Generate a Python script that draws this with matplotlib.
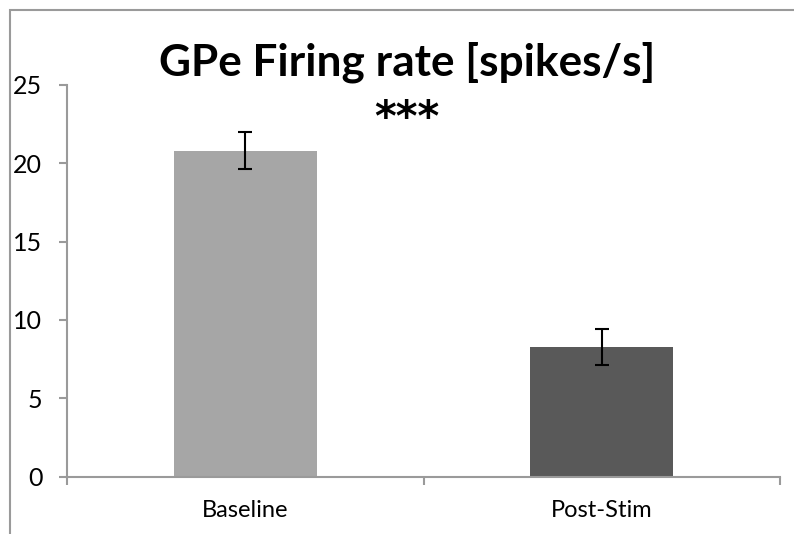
import matplotlib
matplotlib.use('Agg')
import matplotlib.pyplot as plt
from matplotlib.patches import Rectangle

# Datos: tasa de disparo media del GPe y su error
condiciones = ['Baseline', 'Post-Stim']
tasa_media = [20.8, 8.3]
tasa_error = [1.2, 1.15]
colores = ['#a6a6a6', '#595959']
marcas_y = [0, 5, 10, 15, 20, 25]

plt.rcParams['font.family'] = ['Lato', 'DejaVu Sans']
GRIS = '#9a9a9a'

W, H = 794, 534
fig = plt.figure(figsize=(W / 100, H / 100), dpi=100)

# Marco del área del gráfico (sólo quedan a la vista el borde superior e izquierdo)
fig.patches.append(Rectangle((10 / W, -0.2), 1.2, 1.2 - 9.5 / H, transform=fig.transFigure,
                             fill=False, edgecolor=GRIS, linewidth=1.5))

ax = fig.add_axes([67 / W, (H - 476.7) / H, (780 - 67) / W, (476.7 - 84.7) / H])
x = range(len(condiciones))
ax.bar(x, tasa_media, width=0.4, color=colores, zorder=2)
ax.errorbar(x, tasa_media, yerr=tasa_error, fmt='none', ecolor='black',
            elinewidth=1.5, capsize=4.7, capthick=1.5, zorder=3)

ax.set_xlim(-0.5, len(condiciones) - 0.5)
ax.set_ylim(0, 25)
ax.set_yticks(marcas_y)
ax.set_xticks(list(x))
ax.set_xticklabels(condiciones)
ax.set_xticks([i - 0.5 for i in range(len(condiciones) + 1)], minor=True)

for lado in ['top', 'right']:
    ax.spines[lado].set_visible(False)
for lado in ['left', 'bottom']:
    ax.spines[lado].set_color(GRIS)
    ax.spines[lado].set_linewidth(1.5)

ax.tick_params(axis='y', direction='out', length=5.8, width=1.5, color=GRIS,
               labelsize=18, pad=12)
ax.tick_params(axis='x', which='major', length=0, labelsize=17, pad=17)
ax.tick_params(axis='x', which='minor', direction='out', length=5.8, width=1.5, color=GRIS)

fig.text(407 / W, 1 - 62 / H, 'GPe Firing rate [spikes/s]', ha='center', va='center',
         fontsize=31.8, fontweight='bold')
fig.text(407 / W, 1 - 119 / H, '***', ha='center', va='center',
         fontsize=30, fontweight='bold', family='DejaVu Sans')

fig.savefig('out.png', dpi=100)
plt.close(fig)
